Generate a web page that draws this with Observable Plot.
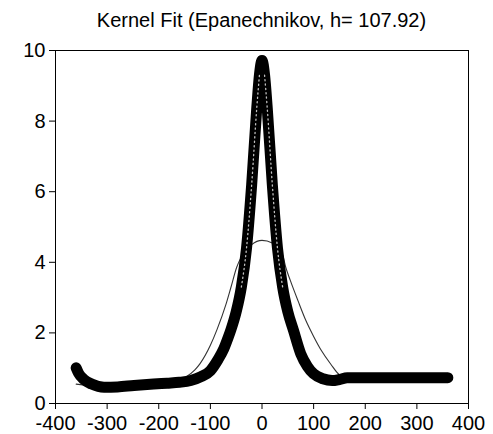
<!DOCTYPE html>
<html>
<head>
<meta charset="utf-8">
<script src="https://cdn.jsdelivr.net/npm/d3@7"></script>
<script src="https://cdn.jsdelivr.net/npm/@observablehq/plot@0.6"></script>
<style>
  html, body { margin: 0; padding: 0; background: #fff; }
  #title { width: 493px; height: 36px; box-sizing: border-box; padding-left: 30px;
    text-align: center; font-family: "Liberation Sans", Arial, sans-serif; font-size: 20px;
    line-height: 40px; color: #000; white-space: nowrap; }
  svg { display: block; }
</style>
</head>
<body>
<div id="title">Kernel Fit (Epanechnikov, h= 107.92)</div>
<div id="chart"></div>
<script>
// Tick labels
const xTicks = [-400, -300, -200, -100, 0, 100, 200, 300, 400];
const yTicks = [0, 2, 4, 6, 8, 10];

// Thick series (data points, drawn as a heavy band of circles)
const thickX = [-360, -355, -345, -330, -306, -280, -248, -210, -184, -160, -138, -118, -100, -85, -74, -66, -60, -50, -40, -30, -20, -10, -5, 0, 5, 10, 20, 30, 40, 50, 61, 75, 88, 100, 118, 136, 150, 165, 200, 250, 300, 360];
const thickY = [1.01, 0.85, 0.68, 0.55, 0.46, 0.47, 0.51, 0.55, 0.575, 0.6, 0.65, 0.76, 0.93, 1.25, 1.55, 1.85, 2.1, 2.6, 3.3, 4.4, 6.2, 8.4, 9.3, 9.72, 9.3, 8.4, 6.2, 4.4, 3.3, 2.6, 2.07, 1.41, 1.05, 0.84, 0.7, 0.65, 0.68, 0.73, 0.73, 0.73, 0.73, 0.73];

// Thin series (kernel fit)
const thinX = [-360, -330, -300, -250, -200, -170, -150, -130, -120, -100, -87, -70, -60, -49, -40, -20, 0, 20, 40, 46, 55, 70, 85, 100, 115, 133, 152, 165, 200, 300, 360];
const thinY = [0.55, 0.5, 0.45, 0.47, 0.52, 0.58, 0.72, 0.95, 1.13, 1.65, 2.1, 2.8, 3.3, 3.86, 4.15, 4.5, 4.62, 4.55, 4.2, 3.86, 3.48, 2.9, 2.35, 1.9, 1.5, 1.12, 0.79, 0.74, 0.73, 0.73, 0.73];

const thick = thickX.map((x, i) => ({x, y: thickY[i]}));
const thin = thinX.map((x, i) => ({x, y: thinY[i]}));
// steep flanks, where the hollow circles show their centres
const flanks = thick.filter(d => Math.abs(d.x) >= 5 && Math.abs(d.x) <= 42)
  .map(d => ({...d, side: d.x < 0 ? "L" : "R"}));

const font = "Liberation Sans, Arial, sans-serif";

const chart = Plot.plot({
  width: 493,
  height: 398,
  marginLeft: 55,
  marginRight: 25,
  marginTop: 14,
  marginBottom: 31,
  style: {fontFamily: font, fontSize: "20px", color: "#000", background: "#fff"},
  x: {domain: [-400, 400]},
  y: {domain: [0, 10]},
  marks: [
    Plot.line(thin, {x: "x", y: "y", stroke: "#333", strokeWidth: 1.1, curve: "monotone-x"}),
    Plot.line(thick, {x: "x", y: "y", stroke: "#000", strokeWidth: 11, curve: "monotone-x", strokeLinecap: "round", strokeLinejoin: "round"}),
    Plot.line(flanks, {x: "x", y: "y", z: "side", stroke: "#fff", strokeOpacity: 0.75, strokeWidth: 1.3, strokeDasharray: "1.2,3.2", curve: "monotone-x"}),
    Plot.frame({stroke: "#000", strokeWidth: 1}),
    Plot.axisX({ticks: xTicks, tickSize: 6, tickPadding: 6, tickFormat: d => String(d).replace("−", "-"), fontSize: 20, label: null}),
    Plot.axisY({ticks: yTicks, tickSize: 6, tickPadding: 4, tickFormat: d => String(d), fontSize: 20, label: null})
  ]
});
document.getElementById("chart").appendChild(chart);
</script>
</body>
</html>
